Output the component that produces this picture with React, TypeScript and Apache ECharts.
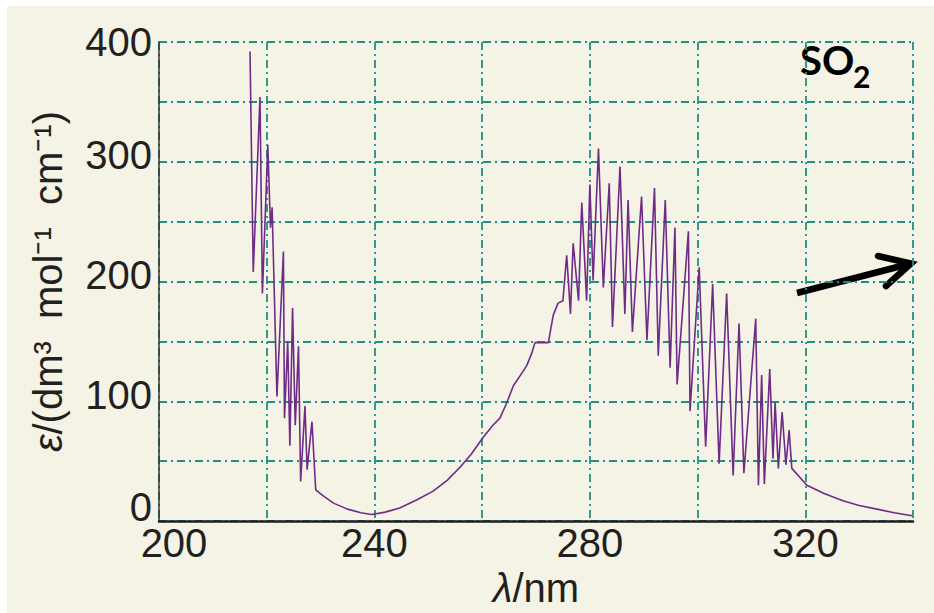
import React, { useEffect, useRef } from 'react';
import * as echarts from 'echarts';

// Wavelength (nm) and molar absorption coefficient (dm3 mol-1 cm-1)
const wavelength = [
  216.9, 217.5, 218.75, 219.2, 220.2, 220.7, 221.0, 221.9, 223.1, 223.3, 223.9, 224.3, 224.8, 225.3, 225.9,
  226.3, 227.1, 227.5, 228.4, 229.1, 230.5, 232.4, 235, 237.5, 239.5, 242, 244.7, 248, 250.9, 253.5, 255.9,
  258, 260.2, 262, 263.3, 264.6, 265.8, 267, 268.3, 269.2, 269.8, 272.3, 273.2, 274.1, 275.0, 275.7, 276.4,
  276.9, 277.9, 278.5, 279.4, 280.0, 280.6, 281.6, 282.5, 283.6, 284.2, 285.6, 286.5, 287.1, 287.9, 289.6,
  290.6, 292.0, 292.7, 294.0, 294.9, 295.8, 296.2, 298.3, 298.6, 300.3, 301.5, 302.8, 304.0, 305.4, 306.6,
  307.7, 308.6, 310.8, 311.3, 311.9, 312.4, 313.4, 314.0, 314.4, 315.0, 315.7, 316.4, 317.0, 317.5, 320.3,
  323.5, 327, 330, 333.3, 336.5, 339.8,
];
const epsilon = [
  392, 208, 354, 190, 314, 245, 262, 104, 225, 86, 150, 63, 178, 80, 146,
  33, 96, 43, 83, 26, 21, 15, 10, 7, 5.5, 7.5, 11, 18, 25, 34, 45,
  56, 70, 80, 86, 99, 113, 121, 130, 140, 149, 149, 172, 182, 184, 222, 173,
  232, 184, 266, 184, 281, 201, 311, 195, 282, 162, 296, 173, 268, 158, 271,
  151, 278, 138, 268, 128, 245, 114, 242, 92, 212, 62, 198, 48, 190, 38,
  165, 40, 169, 30, 122, 31, 127, 52, 99, 44, 91, 47, 76, 44, 30,
  23, 17, 13, 10, 7, 4.4,
];

const xLabelShown = [200, 240, 280, 320];
const yLabelShown = [0, 100, 200, 300, 400];

const gridColor = '#1f8f86';
const dash = [8, 4, 2, 4];
const ink = '#231f20';
const font = 'Liberation Sans';

export default function App() {
  const ref = useRef<HTMLDivElement>(null);
  useEffect(() => {
    const chart = echarts.init(ref.current!, null, { renderer: 'svg' });
    const data = wavelength.map((w, i) => [w, epsilon[i]]);
    const lbl = { fontFamily: font, fontSize: 40, color: ink };
    chart.setOption({
      animation: false,
      backgroundColor: 'transparent',
      grid: { left: 159, right: 21, top: 42, bottom: 86 },
      xAxis: {
        type: 'value',
        min: 200,
        max: 340,
        interval: 20,
        name: '{i|λ}/nm',
        nameLocation: 'middle',
        nameGap: 41,
        nameTextStyle: { ...lbl, rich: { i: { ...lbl, fontStyle: 'italic' } } },
        axisLine: { show: true, lineStyle: { color: '#1e1e1e', width: 2.5 } },
        axisTick: { show: false },
        axisLabel: {
          margin: 2,
          ...lbl,
          formatter: (v: number) => {
            if (!xLabelShown.includes(v)) return '';
            return v === 200 ? '{s|' + v + '}' : String(v);
          },
          rich: { s: { ...lbl, padding: [0, 0, 0, 30] } },
        },
        splitLine: { show: true, lineStyle: { color: gridColor, width: 1.8, type: dash } },
      },
      yAxis: {
        type: 'value',
        min: 0,
        max: 400,
        interval: 50,
        name: '{i|ε}/(dm³  mol⁻¹  cm⁻¹)',
        nameLocation: 'middle',
        nameGap: 91,
        nameRotate: 90,
        nameTextStyle: {
          fontFamily: font,
          fontSize: 40,
          color: ink,
          rich: { i: { fontFamily: font, fontSize: 40, color: ink, fontStyle: 'italic' } },
        },
        axisLine: { show: true, lineStyle: { color: '#333', width: 1.5 } },
        axisTick: { show: false },
        axisLabel: {
          margin: 7,
          ...lbl,
          formatter: (v: number) => {
            if (!yLabelShown.includes(v)) return '';
            if (v === 0) return '{z|0}';
            if (v === 400) return String(v);
            return '{u|' + v + '}';
          },
          rich: {
            z: { ...lbl, padding: [0, 0, 29, 0] },
            u: { ...lbl, padding: [0, 0, 13, 0] },
          },
        },
        splitLine: { show: true, lineStyle: { color: gridColor, width: 1.8, type: dash } },
      },
      series: [
        {
          type: 'line',
          data,
          showSymbol: false,
          lineStyle: { color: '#6e2c87', width: 1.6 },
          z: 5,
        },
      ],
      graphic: [
        {
          type: 'text',
          x: 800,
          y: 59.5,
          style: { text: 'SO', font: 'bold 40px Lato', fill: '#000', verticalAlign: 'middle', align: 'left' },
        },
        {
          type: 'text',
          x: 853,
          y: 75.5,
          style: { text: '2', font: 'bold 30px Lato', fill: '#000', verticalAlign: 'middle', align: 'left' },
        },
        {
          type: 'polyline',
          shape: { points: [[797, 293], [911, 263.5]] },
          style: { stroke: '#000', lineWidth: 6.5, fill: 'none' },
        },
        {
          type: 'polyline',
          shape: { points: [[878, 256], [911, 263.5], [886, 286]] },
          style: { stroke: '#000', lineWidth: 6.5, fill: 'none', lineJoin: 'miter', lineCap: 'round' },
        },
      ],
    });
    return () => chart.dispose();
  }, []);
  return (
    <div style={{ position: 'fixed', left: 0, top: 0, width: 934, height: 613, background: '#ffffff' }}>
      <div style={{ position: 'absolute', left: 7, top: 6, right: 0, bottom: 0, background: '#f5f3e5' }} />
      <div ref={ref} style={{ position: 'absolute', left: 0, top: 0, width: 934, height: 613 }} />
    </div>
  );
}
